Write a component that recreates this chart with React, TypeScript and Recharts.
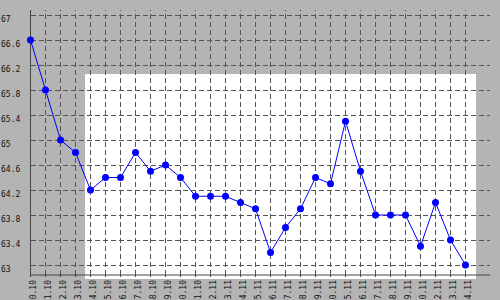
import { LineChart, Line, XAxis, YAxis, ReferenceLine } from 'recharts';

const dates = [
  '20.10', '21.10', '22.10', '23.10', '24.10', '25.10', '26.10', '27.10', '28.10', '29.10',
  '30.10', '31.10', '02.11', '03.11', '04.11', '05.11', '06.11', '07.11', '08.11', '09.11',
  '10.11', '15.11', '16.11', '17.11', '18.11', '19.11', '20.11', '22.11', '23.11', '24.11',
];
const rates = [
  66.6, 65.8, 65.0, 64.8, 64.2, 64.4, 64.4, 64.8, 64.5, 64.6,
  64.4, 64.1, 64.1, 64.1, 64.0, 63.9, 63.2, 63.6, 63.9, 64.4,
  64.3, 65.3, 64.5, 63.8, 63.8, 63.8, 63.3, 64.0, 63.4, 63.0,
];
const yTicks = [63, 63.4, 63.8, 64.2, 64.6, 65, 65.4, 65.8, 66.2, 66.6, 67];

const data = dates.map((d, i) => ({ d, v: rates[i] }));

const FONT = '"DejaVu Sans Mono", monospace';
const GRID = { stroke: '#555', strokeDasharray: '5 3', shapeRendering: 'crispEdges' } as const;

function YTick({ y, payload }: any) {
  const label = String(Math.round(payload.value * 10) / 10);
  return (
    <text x={1} y={y + 7} fontSize={8} fontFamily={FONT} fill="#111">
      {label}
    </text>
  );
}

function XTick({ x, y, payload }: any) {
  return (
    <text
      transform={`translate(${x + 5},${y + 3}) rotate(-90)`}
      textAnchor="end"
      fontSize={8}
      fontFamily={FONT}
      fill="#111"
    >
      {payload.value}
    </text>
  );
}

export default function App() {
  return (
    <div style={{ position: 'fixed', left: 0, top: 0, width: 500, height: 300, background: '#b4b4b4', overflow: 'hidden' }}>
      {/* white panel behind the plot */}
      <div style={{ position: 'absolute', left: 85, top: 74, width: 391, height: 205, background: '#fff' }} />
      <div style={{ position: 'absolute', left: 0, top: 0 }}>
        <LineChart width={500} height={300} data={data} margin={{ top: 10, right: 10, bottom: 0, left: 0.5 }}>
          <XAxis
            dataKey="d"
            interval={0}
            tickSize={2}
            tickMargin={0}
            tickLine={{ stroke: '#444' }}
            tick={<XTick />}
            padding={{ left: 0, right: 24.5 }}
            axisLine={{ stroke: '#444' }}
            height={25}
          />
          <YAxis
            width={30}
            domain={[62.84, 67.08]}
            ticks={yTicks}
            interval={0}
            tickLine={false}
            tick={<YTick />}
            axisLine={{ stroke: '#444' }}
            allowDataOverflow
          />
          {yTicks.map((t) => (
            <ReferenceLine key={'h' + t} y={t} {...GRID} />
          ))}
          {dates.slice(1).map((d) => (
            <ReferenceLine key={'v' + d} x={d} {...GRID} />
          ))}
          <Line
            type="linear"
            dataKey="v"
            stroke="#0000ff"
            strokeWidth={1}
            dot={{ r: 3.5, fill: '#0000ff', stroke: 'none' }}
            activeDot={false}
            isAnimationActive={false}
          />
        </LineChart>
      </div>
    </div>
  );
}
